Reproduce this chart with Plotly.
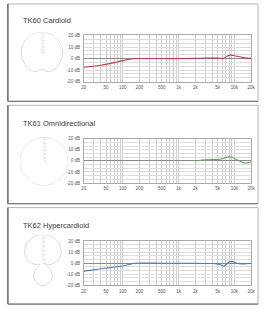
import plotly.graph_objects as go

W, H = 264, 309

# ---------------- data ----------------
titles = ["TK60 Cardioid", "TK61 Omnidirectional", "TK62 Hypercardioid"]
line_colors = ["#c0394d", "#5fa85f", "#4f7fae"]

x_tick_vals = [20, 30, 40, 50, 60, 70, 80, 90,
               100, 200, 300, 400, 500, 600, 700, 800, 900,
               1000, 2000, 3000, 4000, 5000, 6000, 7000, 8000, 9000,
               10000, 20000]
x_tick_text = ["20", "", "", "50", "", "", "", "",
               "100", "200", "", "", "500", "", "", "", "",
               "1k", "2k", "", "", "5k", "", "", "", "",
               "10k", "20k"]
y_tick_vals = [-20, -16.67, -13.33, -10, -6.67, -3.33, 0, 3.33, 6.67, 10, 13.33, 16.67, 20]
y_tick_text = ["-20 dB", "", "", "-10 dB", "", "", "0 dB", "", "", "10 dB", "", "", "20 dB"]

# TK60 cardioid response
freq_60 = [20, 30, 40, 55, 70, 100, 140, 170, 500, 1000, 2000, 3000, 5000, 6500, 7500, 8500, 10000, 12000, 15000, 20000]
resp_60 = [-7.5, -6.6, -5.8, -4.6, -3.5, -1.8, -0.4, 0, 0, 0, 0.2, 0.5, 0.4, 0.3, 2.2, 3.0, 2.5, 1.8, 0.6, 0.2]
# TK61 omni response
freq_61 = [20, 100, 1000, 2000, 2400, 3000, 4000, 5000, 6000, 7000, 8000, 9000, 10000, 12000, 14000, 16000, 18000, 20000]
resp_61 = [0, 0, 0, 0, 0.6, 1.0, 1.2, 1.3, 2.0, 3.0, 3.6, 3.2, 2.2, 0.2, -1.4, -1.9, -1.6, -1.0]
# TK62 hypercardioid response
freq_62 = [20, 30, 40, 55, 70, 100, 130, 160, 500, 1000, 2000, 4000, 5000, 5800, 6500, 7200, 8200, 9200, 10500, 12000, 15000, 20000]
resp_62 = [-7.2, -6.0, -5.0, -4.2, -3.5, -2.6, -1.2, 0, 0, 0, 0, -0.3, -0.8, -1.6, -2.6, -1.0, 1.4, 1.6, 0.4, -0.5, -0.6, 0]

# polar patterns (angle deg, 0 = front/up; normalised radius)
theta_card = [0, 20, 40, 60, 80, 100, 120, 140, 155, 165, 172, 180, 188, 195, 205, 220, 240, 260, 280, 300, 320, 340, 360]
r_card =     [1.0, 1.0, 0.99, 0.98, 0.97, 0.96, 0.95, 0.95, 0.94, 0.88, 0.8, 0.74, 0.8, 0.88, 0.94, 0.95, 0.95, 0.96, 0.97, 0.98, 0.99, 1.0, 1.0]
theta_omni = [0, 30, 60, 90, 120, 150, 180, 210, 240, 270, 300, 330, 360]
r_omni =     [1, 1, 1, 1, 1, 1, 1, 1, 1, 1, 1, 1, 1]
theta_hyper = [0, 20, 40, 60, 80, 95, 105, 115, 130, 145, 160, 170, 180, 190, 200, 215, 230, 245, 255, 265, 280, 300, 320, 340, 360]
r_hyper =     [1.0, 0.97, 0.88, 0.72, 0.5, 0.28, 0.1, 0.12, 0.36, 0.55, 0.68, 0.73, 0.75, 0.73, 0.68, 0.55, 0.36, 0.12, 0.1, 0.28, 0.5, 0.72, 0.88, 0.97, 1.0]

# ---------------- layout helpers ----------------
def px(x):
    return x / W

def py(y):
    return 1 - y / H

panel_boxes = [(5, 2, 262, 101), (5, 105, 262, 205), (5, 209, 262, 307)]
plot_rows = [(34, 81), (139, 184), (243, 288)]
title_y = [19, 124, 227]
polar_boxes = [(18, 30, 62, 74), (17, 137, 67, 187), (11, 236, 71, 296)]

fig = go.Figure()

freqs = [freq_60, freq_61, freq_62]
resps = [resp_60, resp_61, resp_62]
patterns = [(theta_card, r_card), (theta_omni, r_omni), (theta_hyper, r_hyper)]

for i in range(3):
    sfx = "" if i == 0 else str(i + 1)
    fr, rs = freqs[i], resps[i]
    if i == 1:
        fr, rs = fr[3:], rs[3:]
    fig.add_trace(go.Scatter(x=fr, y=rs, mode="lines", line=dict(color=line_colors[i], width=1.1, shape="spline", smoothing=0.6),
                             xaxis="x" + sfx, yaxis="y" + sfx, showlegend=False, hoverinfo="skip"))
    th, rr = patterns[i]
    fig.add_trace(go.Scatterpolar(theta=th, r=rr, mode="lines", line=dict(color="#d8d8d8", width=1, shape="spline", smoothing=0.8),
                                  subplot="polar" + sfx, showlegend=False, hoverinfo="skip"))

    top, bot = plot_rows[i]
    fig.layout["xaxis" + sfx] = dict(
        type="log", range=[1.30103, 4.30103], domain=[px(83), px(255)], anchor="y" + sfx,
        tickvals=x_tick_vals, ticktext=x_tick_text, ticks="", showgrid=True, gridcolor="#cdcdcd", gridwidth=1,
        tickfont=dict(size=4.5, color="#555", family="Liberation Sans"), showline=True, mirror=True, linecolor="#aaa",
        linewidth=1, zeroline=False, fixedrange=True, ticklabelstandoff=1)
    fig.layout["yaxis" + sfx] = dict(
        range=[-20, 20], domain=[py(bot), py(top)], anchor="x" + sfx, tickvals=y_tick_vals, ticktext=y_tick_text,
        ticks="", showgrid=True, gridcolor="#dcdcdc", zeroline=True, zerolinecolor="#8a8a8a", zerolinewidth=1,
        tickfont=dict(size=4.5, color="#555", family="Liberation Sans"), showline=True, mirror=True, linecolor="#aaa",
        linewidth=1, fixedrange=True, ticklabelstandoff=2)

    x0, y0, x1, y1 = polar_boxes[i]
    fig.layout["polar" + sfx] = dict(
        domain=dict(x=[px(x0), px(x1)], y=[py(y1), py(y0)]), bgcolor="rgba(0,0,0,0)",
        angularaxis=dict(rotation=90, direction="clockwise", showgrid=False, showline=False, showticklabels=False, ticks=""),
        radialaxis=dict(range=[0, 1], angle=90, showgrid=False, showline=True, linecolor="#e6e6e6", showticklabels=False,
                        ticks="outside", ticklen=2, tickcolor="#d6d6d6", dtick=0.15))

    bx0, by0, bx1, by1 = panel_boxes[i]
    fig.add_shape(type="rect", xref="paper", yref="paper", x0=px(bx0), x1=px(bx1), y0=py(by1), y1=py(by0),
                  line=dict(color="#b5b5b5", width=1), layer="below")
    fig.add_shape(type="line", xref="paper", yref="paper", x0=px(bx0), x1=px(bx0), y0=py(by1), y1=py(by0),
                  line=dict(color="#6e6e6e", width=1.5))
    fig.add_shape(type="line", xref="paper", yref="paper", x0=px(bx0), x1=px(bx1), y0=py(by1), y1=py(by1),
                  line=dict(color="#7a7a7a", width=1.2))
    fig.add_annotation(text=titles[i], xref="paper", yref="paper", x=px(19), y=py(title_y[i]), xanchor="left",
                       yanchor="middle", showarrow=False, font=dict(size=7.5, color="#3a3a3a", family="Liberation Sans"))

fig.update_layout(width=W, height=H, margin=dict(l=0, r=0, t=0, b=0), paper_bgcolor="white", plot_bgcolor="white",
                  showlegend=False)

fig.write_html("out.html")
